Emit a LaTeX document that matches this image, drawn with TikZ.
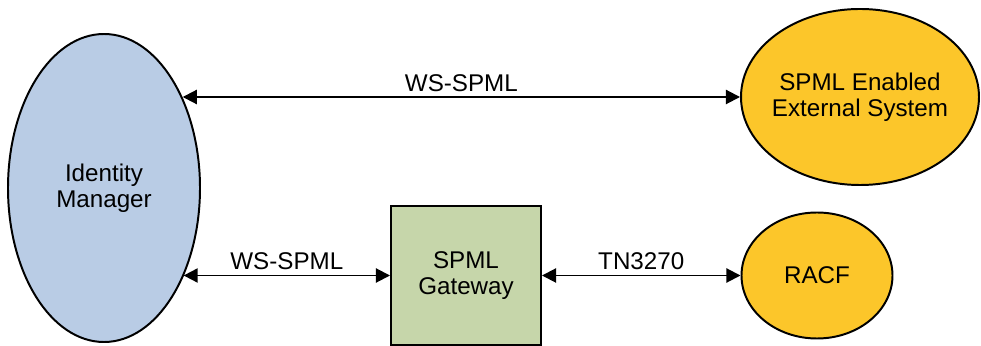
\documentclass[tikz,border=0pt]{standalone}
\usepackage{fontspec}
\setmainfont{Liberation Sans}
\usetikzlibrary{shapes.geometric,arrows.meta}
\definecolor{idmblue}{RGB}{185,204,229}
\definecolor{sysyellow}{RGB}{252,198,42}
\definecolor{gategreen}{RGB}{198,214,170}
\begin{document}
\begin{tikzpicture}[x=0.025cm,y=-0.025cm,
    every node/.style={font=\fontsize{17.2}{18.4}\selectfont,align=center},
    oval/.style={ellipse,draw,line width=1.4pt,inner sep=0pt},
    gatebox/.style={rectangle,draw,line width=1.4pt,fill=gategreen,inner sep=0pt,minimum width=150*0.025cm,minimum height=139*0.025cm},
    link/.style={{Triangle[length=10pt,width=10pt]}-{Triangle[length=10pt,width=10pt]},line width=1.4pt}]
  \useasboundingbox (0,0) rectangle (981,346);
  % Nodes
  \node[oval,fill=idmblue,minimum width=192*0.025cm,minimum height=308*0.025cm] (idm) at (104,188) {Identity\\Manager};
  \node[oval,fill=sysyellow,inner xsep=-0.11cm,minimum width=238*0.025cm,minimum height=176*0.025cm] (sys) at (860,97) {SPML Enabled\\External System};
  \node[gatebox] (gate) at (466,275.5) {SPML\\Gateway};
  \node[oval,fill=sysyellow,minimum width=151*0.025cm,minimum height=126*0.025cm] (racf) at (817,275.5) {RACF};
  % Connectors
  \draw[link] (idm.49 |- sys.west) -- (sys.west) node[midway,above] {WS-SPML};
  \draw[link] (idm.-48 |- gate.west) -- (gate.west) node[midway,above] {WS-SPML};
  \draw[link] (gate.east) -- (racf.west) node[midway,above] {TN3270};
\end{tikzpicture}
\end{document}
